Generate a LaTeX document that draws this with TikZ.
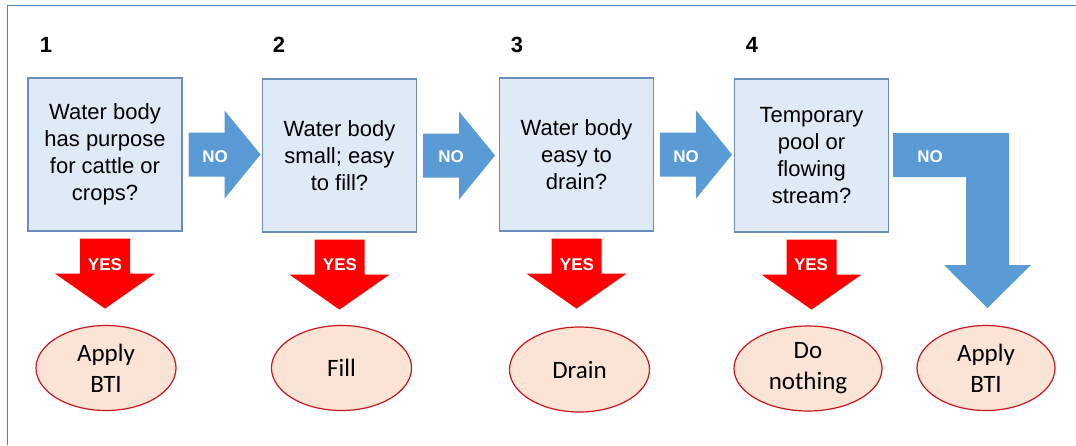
\documentclass[tikz,border=0pt]{standalone}
\usepackage{fontspec}
\setmainfont{Liberation Sans}
\newfontfamily\calib{Carlito}
\usetikzlibrary{shapes.geometric}
\definecolor{boxfill}{HTML}{DEEAF6}
\definecolor{boxline}{HTML}{6A8DBC}
\definecolor{blueA}{HTML}{5B9BD5}
\definecolor{redA}{HTML}{FF0000}
\definecolor{ellfill}{HTML}{FBE4D5}
\definecolor{ellred}{HTML}{C8161D}
\definecolor{frameblue}{HTML}{4F81BD}
\begin{document}
\begin{tikzpicture}[x=1pt,y=-1pt,
  qbox/.style={draw=boxline,fill=boxfill,line width=1.2pt,minimum width=154pt,minimum height=153pt,inner sep=0pt,align=center,font=\fontsize{22}{27}\selectfont},
  endell/.style={ellipse,draw=ellred,fill=ellfill,line width=1.2pt,minimum width=140pt,minimum height=85pt,inner sep=0pt,align=center,font=\calib\fontsize{25}{31}\selectfont},
  num/.style={font=\bfseries\fontsize{22}{26}\selectfont},
  lab/.style={text=white,font=\bfseries\fontsize{17}{20}\selectfont},
  noarrow/.style={fill=blueA},
  yesarrow/.style={fill=redA},
  frameline/.style={draw=frameblue,line width=1pt}]
\useasboundingbox (0,0) rectangle (1076,445);
\draw[frameline] (7,445) -- (7,5) -- (1076,5);

% step numbers
\node[num] (n1) at (46,45) {1};
\node[num] (n2) at (279,45) {2};
\node[num] (n3) at (517,45) {3};
\node[num] (n4) at (752,45) {4};

% question boxes
\node[qbox] (b1) at (105,154.5) {Water body\\has purpose\\for cattle or\\crops?};
\node[qbox] (b2) at (339.5,155.5) {Water body\\small; easy\\to fill?};
\node[qbox] (b3) at (576.5,154.5) {Water body\\easy to\\drain?};
\node[qbox] (b4) at (811.5,155.5) {Temporary\\pool or\\flowing\\stream?};

% outcome ellipses
\node[endell] (e1) at (106,368) {Apply\\BTI};
\node[endell] (e2) at (341.5,368) {Fill};
\node[endell] (e3) at (579.5,369.5) {Drain};
\node[endell,minimum width=148pt] (e4) at (808,368.5) {Do\\nothing};
\node[endell,minimum width=138pt] (e5) at (986,368) {Apply\\BTI};

% NO arrows
\foreach \b in {b1,b2,b3}{
  \fill[noarrow] (\b.east) ++(6,0) ++(0,-22) -- ++(36,0) -- ++(0,-22) -- ++(36,44) -- ++(-36,44) -- ++(0,-22) -- ++(-36,0) -- cycle;
}
\node[lab] (no1) at (215,157) {NO};
\node[lab] (no2) at (451,157) {NO};
\node[lab] (no3) at (686,157) {NO};

% bent NO arrow
\fill[noarrow] (893,133) -- (1009,133) -- (1009,265) -- (1031,265) -- (987.5,308) -- (944,265) -- (966,265) -- (966,177) -- (893,177) -- cycle;
\node[lab] (no4) at (930,157) {NO};

% YES arrows
\foreach \b in {b1,b2,b3,b4}{
  \fill[yesarrow] (\b.south) ++(0,7) ++(-25,0) -- ++(50,0) -- ++(0,35) -- ++(25,0) -- ++(-50,35) -- ++(-50,-35) -- ++(25,0) -- cycle;
}
\node[lab] (y1) at (105,265) {YES};
\node[lab] (y2) at (340,265) {YES};
\node[lab] (y3) at (577,265) {YES};
\node[lab] (y4) at (811,265) {YES};
\end{tikzpicture}
\end{document}
